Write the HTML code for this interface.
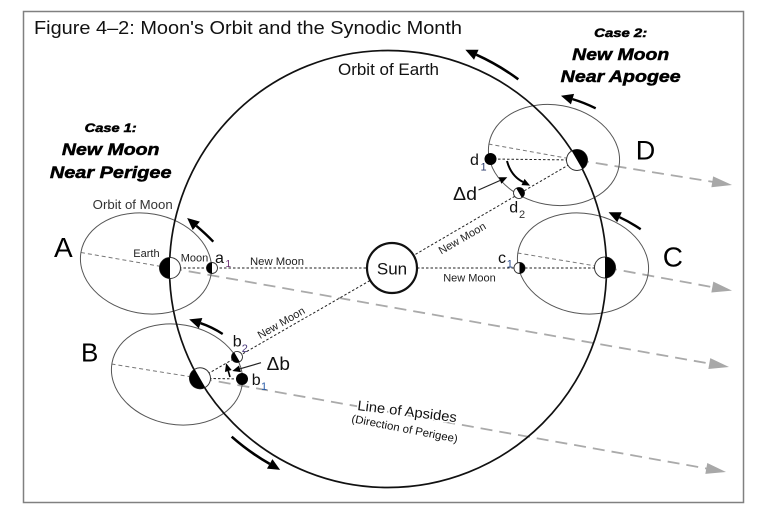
<!DOCTYPE html>
<html>
<head>
<meta charset="utf-8">
<style>
  html,body{margin:0;padding:0;background:#fff;}
  svg{display:block;}
  text{font-family:"Liberation Sans", Arial, sans-serif;}
</style>
</head>
<body>
<svg width="768" height="522" viewBox="0 0 768 522" xmlns="http://www.w3.org/2000/svg">
  <defs>
    <marker id="ah" markerUnits="userSpaceOnUse" viewBox="0 -6 14 12" markerWidth="14" markerHeight="12" refX="0" refY="0" orient="auto" overflow="visible">
      <path d="M0,-5.5 L12,0 L0,5.5 Z" fill="#000"/>
    </marker>
    <marker id="ahs" markerUnits="userSpaceOnUse" viewBox="0 -5 10 10" markerWidth="10" markerHeight="10" refX="0" refY="0" orient="auto" overflow="visible">
      <path d="M0,-3.5 L8,0 L0,3.5 Z" fill="#000"/>
    </marker>
    <marker id="ag" markerUnits="userSpaceOnUse" viewBox="0 -6 20 12" markerWidth="20" markerHeight="12" refX="14" refY="0" orient="auto" overflow="visible">
      <path d="M0,-5.5 L20,0 L0,5.5 Z" fill="#a8a8a8"/>
    </marker>
  </defs>

  <rect width="768" height="522" fill="#fff"/>
  <rect x="23.5" y="11.5" width="720" height="491" fill="none" stroke="#808080" stroke-width="1.5"/>

  <!-- Title -->
  <text x="34" y="34" font-size="18.5" fill="#111" textLength="428" lengthAdjust="spacingAndGlyphs">Figure 4–2: Moon's Orbit and the Synodic Month</text>

  <!-- Lines of apsides: inner short dashes -->
  <g stroke="#777" stroke-width="1" stroke-dasharray="4 3" fill="none">
    <line x1="81" y1="252.5" x2="170" y2="268"/>
    <line x1="111.5" y1="364" x2="200" y2="378.3"/>
    <line x1="517.5" y1="253" x2="605" y2="267.5"/>
    <line x1="488.5" y1="144" x2="577" y2="160"/>
  </g>
  <!-- Lines of apsides: long gray dashes with arrowheads -->
  <g stroke="#aaaaaa" stroke-width="1.8" stroke-dasharray="12 7" fill="none">
    <line x1="170" y1="268" x2="723.1" y2="366" marker-end="url(#ag)"/>
    <line x1="200" y1="378.3" x2="720.1" y2="470.9" marker-end="url(#ag)"/>
    <line x1="605" y1="267.5" x2="726.1" y2="289.6" marker-end="url(#ag)"/>
    <line x1="577" y1="160" x2="726.1" y2="184" marker-end="url(#ag)"/>
  </g>

  <!-- New Moon dotted lines -->
  <g stroke="#222" stroke-width="1" stroke-dasharray="2.5 2" fill="none">
    <line x1="170" y1="268" x2="367" y2="268"/>
    <line x1="417" y1="268" x2="605" y2="268"/>
    <line x1="200" y1="378.3" x2="370.3" y2="280.4"/>
    <line x1="200" y1="378.3" x2="242" y2="379"/>
    <line x1="577" y1="160" x2="413.6" y2="255.4"/>
    <line x1="577" y1="160" x2="490.5" y2="159"/>
  </g>

  <!-- Moon orbits -->
  <g fill="none" stroke="#555" stroke-width="1">
    <ellipse cx="146" cy="263.5" rx="66" ry="50" transform="rotate(10 146 263.5)"/>
    <ellipse cx="177" cy="374.5" rx="66" ry="50" transform="rotate(10 177 374.5)"/>
    <ellipse cx="583" cy="263.5" rx="66" ry="50" transform="rotate(10 583 263.5)"/>
    <ellipse cx="554" cy="155" rx="66" ry="50" transform="rotate(10 554 155)"/>
  </g>

  <!-- Orbit of Earth -->
  <circle cx="388" cy="269" r="218.5" fill="none" stroke="#111" stroke-width="1.7"/>

  <!-- Sun -->
  <circle cx="392" cy="268" r="25" fill="#fff" stroke="#111" stroke-width="2.2"/>
  <text x="392" y="274.5" font-size="17" text-anchor="middle" fill="#111">Sun</text>

  <!-- Earths -->
  <g transform="translate(170,268) rotate(0)">
    <circle r="10.5" fill="#fff" stroke="#333" stroke-width="1"/>
    <path d="M0,-10.5 A10.5,10.5 0 0 0 0,10.5 Z" fill="#000"/>
  </g>
  <g transform="translate(200,378.3) rotate(-29.8)">
    <circle r="10.5" fill="#fff" stroke="#333" stroke-width="1"/>
    <path d="M0,-10.5 A10.5,10.5 0 0 0 0,10.5 Z" fill="#000"/>
  </g>
  <g transform="translate(605,267.5) rotate(180)">
    <circle r="10.5" fill="#fff" stroke="#333" stroke-width="1"/>
    <path d="M0,-10.5 A10.5,10.5 0 0 0 0,10.5 Z" fill="#000"/>
  </g>
  <g transform="translate(577,160) rotate(149.7)">
    <circle r="10.5" fill="#fff" stroke="#333" stroke-width="1"/>
    <path d="M0,-10.5 A10.5,10.5 0 0 0 0,10.5 Z" fill="#000"/>
  </g>

  <!-- Moons -->
  <g transform="translate(212,268) rotate(0)">
    <circle r="5.5" fill="#fff" stroke="#333" stroke-width="0.9"/>
    <path d="M0,-5.5 A5.5,5.5 0 0 0 0,5.5 Z" fill="#000"/>
  </g>
  <g transform="translate(237,357) rotate(-30)">
    <circle r="5.5" fill="#fff" stroke="#333" stroke-width="0.9"/>
    <path d="M0,-5.5 A5.5,5.5 0 0 0 0,5.5 Z" fill="#000"/>
  </g>
  <circle cx="242" cy="379" r="6" fill="#000"/>
  <g transform="translate(519.5,268) rotate(180)">
    <circle r="5.5" fill="#fff" stroke="#333" stroke-width="0.9"/>
    <path d="M0,-5.5 A5.5,5.5 0 0 0 0,5.5 Z" fill="#000"/>
  </g>
  <circle cx="490.5" cy="159" r="6" fill="#000"/>
  <g transform="translate(519,193) rotate(150)">
    <circle r="5.5" fill="#fff" stroke="#333" stroke-width="0.9"/>
    <path d="M0,-5.5 A5.5,5.5 0 0 0 0,5.5 Z" fill="#000"/>
  </g>

  <!-- Orbit-of-Earth arrows -->
  <g fill="none" stroke="#000" stroke-width="2.6">
    <path d="M518.3,79.3 A231,231 0 0 0 476.3,54.7" marker-end="url(#ah)"/>
    <path d="M231.7,436.7 A229,229 0 0 0 269.7,463.9" marker-end="url(#ah)"/>
  </g>
  <!-- Moon orbit arrows -->
  <g fill="none" stroke="#000" stroke-width="2.4">
    <path d="M213.3,241.7 Q206,234 196.3,225.8" marker-end="url(#ah)"/>
    <path d="M222.7,334 Q212,327 200.6,323.2" marker-end="url(#ah)"/>
    <path d="M640.7,229.3 Q630,222 619.5,217.2" marker-end="url(#ah)"/>
    <path d="M595.7,108.3 Q584,102.5 572.5,99.1" marker-end="url(#ah)"/>
  </g>
  <!-- d arc arrow -->
  <path d="M507,161 Q511,176 523,182" fill="none" stroke="#000" stroke-width="2" marker-end="url(#ahs)"/>
  <!-- Δd leader -->
  <line x1="478.5" y1="190" x2="500" y2="180.5" stroke="#222" stroke-width="1.2" marker-end="url(#ahs)"/>
  <!-- Δb leader -->
  <line x1="261" y1="362.7" x2="240" y2="368.8" stroke="#222" stroke-width="1.2" marker-end="url(#ahs)"/>
  <!-- small b arrow -->
  <line x1="230" y1="377" x2="228.3" y2="371" stroke="#000" stroke-width="1.6" marker-end="url(#ahs)"/>

  <!-- Labels -->
  <text x="338" y="75" font-size="16.5" fill="#111" textLength="101" lengthAdjust="spacingAndGlyphs">Orbit of Earth</text>

  <g font-weight="bold" font-style="italic" fill="#000" stroke="#000" stroke-width="0.5" text-anchor="middle">
    <text x="110.7" y="132" font-size="12" textLength="52" lengthAdjust="spacingAndGlyphs">Case 1:</text>
    <text x="110.7" y="155" font-size="17" textLength="97.6" lengthAdjust="spacingAndGlyphs">New Moon</text>
    <text x="110.7" y="178" font-size="17" textLength="121.7" lengthAdjust="spacingAndGlyphs">Near Perigee</text>
    <text x="620.7" y="37" font-size="12" textLength="53" lengthAdjust="spacingAndGlyphs">Case 2:</text>
    <text x="620.7" y="60" font-size="17" textLength="97" lengthAdjust="spacingAndGlyphs">New Moon</text>
    <text x="620.7" y="82" font-size="17" textLength="120" lengthAdjust="spacingAndGlyphs">Near Apogee</text>
  </g>

  <text x="92.7" y="209" font-size="13" fill="#333" textLength="80" lengthAdjust="spacingAndGlyphs">Orbit of Moon</text>

  <text x="54" y="257" font-size="28" fill="#000">A</text>
  <text x="81" y="361.7" font-size="26" fill="#000">B</text>
  <text x="662.7" y="266.7" font-size="28" fill="#000">C</text>
  <text x="635.7" y="159.3" font-size="27" fill="#000">D</text>

  <text x="133.3" y="257" font-size="11" fill="#222">Earth</text>
  <text x="180.7" y="261.5" font-size="11" fill="#222">Moon</text>

  <text x="250" y="265" font-size="11" fill="#222" textLength="54" lengthAdjust="spacingAndGlyphs">New Moon</text>
  <text x="469.5" y="281.5" font-size="11" fill="#222" text-anchor="middle">New Moon</text>
  <text transform="translate(283,326) rotate(-30)" font-size="11" fill="#222" text-anchor="middle">New Moon</text>
  <text transform="translate(464,241.5) rotate(-30)" font-size="11" fill="#222" text-anchor="middle">New Moon</text>

  <!-- moon position labels -->
  <text x="215" y="263" font-size="16" fill="#111">a</text>
  <text x="225.5" y="267" font-size="10" fill="#6a2c70">1</text>
  <text x="232.7" y="346.7" font-size="16" fill="#111">b</text>
  <text x="241.7" y="352" font-size="11" fill="#4a3a7a">2</text>
  <text x="251.7" y="385" font-size="16" fill="#111">b</text>
  <text x="261" y="390" font-size="11" fill="#2a5ca8">1</text>
  <text x="498" y="263" font-size="16" fill="#111">c</text>
  <text x="506.7" y="267.5" font-size="11" fill="#2a4a8a">1</text>
  <text x="470" y="165" font-size="16" fill="#111">d</text>
  <text x="480.5" y="170.5" font-size="11" fill="#2a3a6a">1</text>
  <text x="509.3" y="212.7" font-size="16" fill="#111">d</text>
  <text x="519" y="218" font-size="11" fill="#333">2</text>

  <text x="453" y="200" font-size="18" fill="#111" textLength="24" lengthAdjust="spacingAndGlyphs">Δd</text>
  <text x="266.7" y="370" font-size="18" fill="#111" textLength="23.3" lengthAdjust="spacingAndGlyphs">Δb</text>

  <!-- Line of Apsides -->
  <text transform="translate(357,410) rotate(7)" font-size="14" fill="#111" stroke="#fff" stroke-width="3" paint-order="stroke" textLength="100" lengthAdjust="spacingAndGlyphs">Line of Apsides</text>
  <text transform="translate(351,422) rotate(11)" font-size="11" fill="#111" stroke="#fff" stroke-width="3" paint-order="stroke" textLength="108" lengthAdjust="spacingAndGlyphs">(Direction of  Perigee)</text>
</svg>
</body>
</html>
